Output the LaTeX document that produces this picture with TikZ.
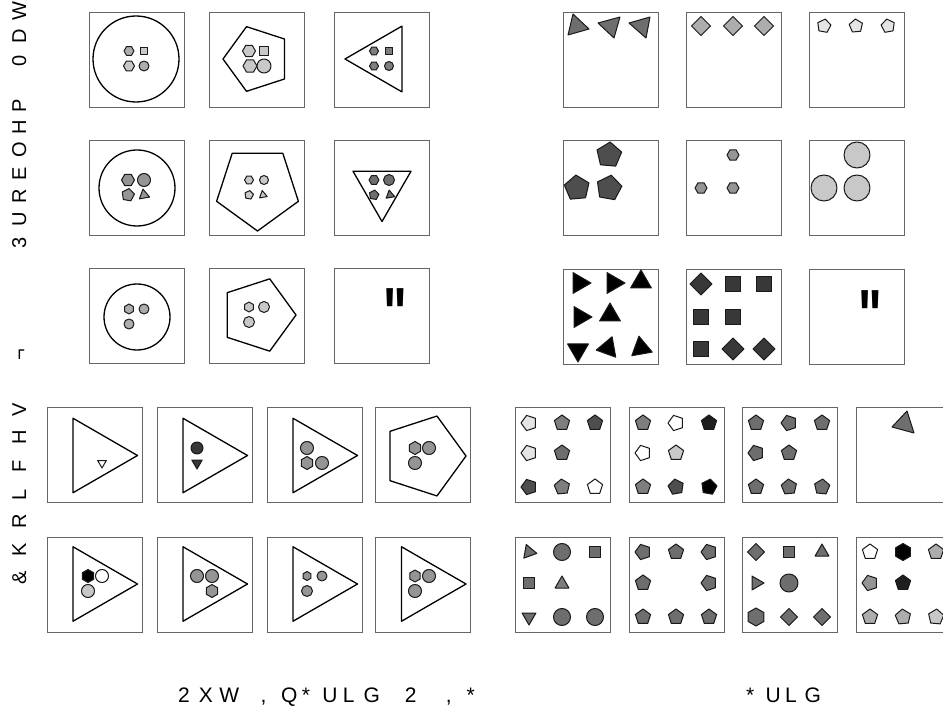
\documentclass[tikz,border=0pt]{standalone}
\usepackage{fontspec}
\setmainfont{Liberation Sans}[Ligatures=TeXOff]

\makeatletter
\newcommand{\spreadtext}[2]{\@tfor\spreadch:=#2\do{\makebox[#1][l]{\spreadch}}}
\makeatother

\begin{document}
\begin{tikzpicture}[x=1pt, y=-1pt,
    panel/.style={draw=black!60, line width=0.9pt},
    frame/.style={draw=black, line width=1.3pt, line join=round},
    item/.style={draw=black!90, line width=1pt, line join=round},
    caption/.style={inner sep=0pt, font=\fontsize{21}{24}\selectfont},
    blank/.style={inner sep=0pt, anchor=north, font=\bfseries\fontsize{50}{54}\selectfont}]
    \def\cellSize{95}
    \definecolor{greyPale}{HTML}{E4E4E4}
    \definecolor{greyLight}{HTML}{C8C8C8}
    \definecolor{greySoft}{HTML}{ADADAD}
    \definecolor{greyMid}{HTML}{959595}
    \definecolor{greyDim}{HTML}{7E7E7E}
    \definecolor{greyDark}{HTML}{6E6E6E}
    \definecolor{greyDeep}{HTML}{4E4E4E}
    \definecolor{greyNight}{HTML}{383838}
    \definecolor{greyInk}{HTML}{1E1E1E}

    % Page
    \useasboundingbox (0,0) rectangle (943,711);
    \clip (0,0) rectangle (943,711);

    % Shape macros: sides, x, y, radius, start angle, fill
    \def\polyShape#1#2#3#4#5#6{\filldraw[item, fill=#6, shift={(#2,#3)}] (#5:#4) \foreach \k in {1,...,#1} {-- ({#5+\k*360/#1}:#4)} -- cycle;}
    \def\frameShape#1#2#3#4#5{\draw[frame, shift={(#2,#3)}] (#5:#4) \foreach \k in {1,...,#1} {-- ({#5+\k*360/#1}:#4)} -- cycle;}
    \def\discShape#1#2#3#4{\filldraw[item, fill=#4] (#1,#2) circle (#3);}

    % Panels
    \foreach \px in {89,209,334} \foreach \py in {12,140,268} {\draw[panel] (\px,\py) rectangle ++(\cellSize,\cellSize);}
    \foreach \px in {563,686,809} \foreach \py in {12,140,269} {\draw[panel] (\px,\py) rectangle ++(\cellSize,\cellSize);}
    \foreach \px in {47,157,267,375} \foreach \py in {407,537} {\draw[panel] (\px,\py) rectangle ++(\cellSize,\cellSize);}
    \foreach \px in {515,629,742,856} \foreach \py in {407,537} {\draw[panel] (\px,\py) rectangle ++(\cellSize,\cellSize);}

    % Labels
    \node[caption, rotate=90, anchor=base west, font=\fontsize{20}{24}\selectfont] (matrixLabel) at (26,249) {\spreadtext{22.8pt}{3UREOHP{~}0DW}};
    \node[caption, rotate=90, anchor=base west, font=\fontsize{20}{24}\selectfont] (choiceLabel) at (26,585) {\spreadtext{28pt}{\&KRLFHV{~}¬}};
    \node[caption, anchor=base west] (oigLabel) at (178,702) {\spreadtext{20.6pt}{2XW{~},Q*ULG{~}2{~},*}};
    \node[caption, anchor=base west] (gridLabel) at (746,702) {\spreadtext{19.5pt}{*ULG}};
    \node[blank] (blankLeft) at (395,288) {\scalebox{1}[1.45]{"}};
    \node[blank] (blankRight) at (870,290) {\scalebox{1}[1.45]{"}};

    % Problem matrix 1, row 1
    \draw[frame] (136,59) circle (43);
    \polyShape{6}{129}{51}{5}{0}{greySoft}
    \polyShape{4}{144}{51}{5}{45}{greyLight}
    \polyShape{6}{129}{66}{5.5}{0}{greyLight}
    \discShape{144}{66}{5}{greySoft}
    \frameShape{5}{257}{59}{34}{180}
    \polyShape{6}{249}{51}{6.5}{0}{greyLight}
    \polyShape{4}{264}{51}{6.5}{45}{greyLight}
    \polyShape{6}{250}{66}{7}{0}{greyLight}
    \discShape{264}{66}{7}{greyLight}
    \frameShape{3}{383}{59}{38}{180}
    \polyShape{6}{374}{51}{4.5}{0}{greyDim}
    \polyShape{4}{389}{51}{5}{45}{greyDim}
    \polyShape{6}{374}{66}{4.5}{0}{greyDim}
    \discShape{389}{66}{4.5}{greyDim}

    % Problem matrix 1, row 2
    \draw[frame] (137,188) circle (38);
    \polyShape{6}{128}{180}{6.5}{0}{greyMid}
    \discShape{144}{180}{6.5}{greyMid}
    \polyShape{5}{128}{195}{6.5}{-80}{greyMid}
    \polyShape{3}{144}{195}{6}{20}{greyMid}
    \frameShape{5}{257.5}{188}{43}{90}
    \polyShape{6}{249}{180}{4.5}{0}{greyLight}
    \discShape{264}{180}{4.5}{greyLight}
    \polyShape{5}{249}{195}{4.5}{-80}{greyLight}
    \polyShape{3}{263}{195}{4.5}{20}{greyLight}
    \frameShape{3}{382}{188}{33.5}{90}
    \polyShape{6}{374}{180}{5}{0}{greyDark}
    \discShape{389}{180}{5.5}{greyDark}
    \polyShape{5}{374}{195}{5}{-80}{greyDark}
    \polyShape{3}{390}{195}{5}{20}{greyDark}

    % Problem matrix 1, row 3
    \draw[frame] (137,317) circle (33);
    \polyShape{6}{129}{309}{5}{90}{greySoft}
    \discShape{144}{309}{5}{greySoft}
    \discShape{129}{324}{5}{greySoft}
    \frameShape{5}{258}{315}{38}{0}
    \polyShape{6}{249}{307}{5}{90}{greyLight}
    \discShape{264}{307}{5.5}{greyLight}
    \discShape{249}{322}{5.5}{greyLight}

    % Problem matrix 2, row 1
    \filldraw[item, fill=greyDark] (573,14) -- (589,29) -- (568,35) -- cycle;
    \filldraw[item, fill=greyDark] (598,23) -- (620,17) -- (614,38) -- cycle;
    \filldraw[item, fill=greyDark] (629,23) -- (650,17) -- (646,38) -- cycle;
    \foreach \qx in {701,733,764} {\polyShape{4}{\qx}{26}{9.5}{0}{greySoft}}
    \foreach \qx/\qa in {824/-80,856/-95,888/-100} {\polyShape{5}{\qx}{26}{7}{\qa}{greyPale}}

    % Problem matrix 2, row 2
    \polyShape{5}{609}{155}{13}{-85}{greyDeep}
    \polyShape{5}{577}{188}{13}{-95}{greyDeep}
    \polyShape{5}{609}{188}{13}{-80}{greyDeep}
    \foreach \qx/\qy in {733/155,701/188,733/188} {\polyShape{6}{\qx}{\qy}{6}{0}{greyMid}}
    \foreach \qx/\qy in {857/155,824/188,857/188} {\discShape{\qx}{\qy}{13}{greyLight}}

    % Problem matrix 2, row 3
    \foreach \qx/\qy/\qa in {579/283/0, 613/283/0, 641/282/-90, 580/317/0, 610/315/-90, 578/350/90, 608/348/170, 641/348/-100}
        {\polyShape{3}{\qx}{\qy}{12}{\qa}{black}}
    \foreach \qx/\qy/\qa in {701/284/0, 733/284/45, 764/284/45, 701/317/45, 733/317/45, 701/349/45, 733/349/0, 764/349/0}
        {\polyShape{4}{\qx}{\qy}{11}{\qa}{greyNight}}

    % Choices, row 1
    \frameShape{3}{94.5}{455.5}{43}{0}
    \polyShape{3}{102}{463}{5}{90}{white}
    \frameShape{3}{204.5}{455.5}{43}{0}
    \discShape{197}{448}{6}{greyNight}
    \polyShape{3}{197}{463}{6}{90}{greyNight}
    \frameShape{3}{314.5}{455.5}{43}{0}
    \discShape{307}{448}{6.5}{greyMid}
    \polyShape{6}{307}{463}{6.5}{90}{greyMid}
    \discShape{322}{463}{6.5}{greyMid}
    \frameShape{5}{424}{456}{42}{0}
    \polyShape{6}{415}{448}{6.5}{90}{greyMid}
    \discShape{429}{448}{6.5}{greyMid}
    \discShape{415}{463}{6.5}{greyMid}
    \foreach \qx/\qy/\qc/\qa in {529/423/greyPale/180, 562/423/greyDim/-90, 595/423/greyDeep/-90, 529/453/greyPale/180, 562/453/greyDark/-90, 529/487/greyDeep/180, 562/487/greyDim/-95, 595/487/white/-90}
        {\polyShape{5}{\qx}{\qy}{8}{\qa}{\qc}}
    \foreach \qx/\qy/\qc/\qa in {643/423/greyDim/-90, 676/423/white/180, 709/423/greyInk/-90, 643/453/white/180, 676/453/greyLight/-90, 643/487/greyDim/-90, 676/487/greyDeep/-100, 709/487/black/-80}
        {\polyShape{5}{\qx}{\qy}{8}{\qa}{\qc}}
    \foreach \qx/\qy/\qa in {756/423/-90, 789/423/180, 822/423/-90, 756/453/180, 789/453/-90, 756/487/-90, 789/487/-95, 822/487/-85}
        {\polyShape{5}{\qx}{\qy}{8}{\qa}{greyDark}}
    \filldraw[item, fill=greyDark] (892,427) -- (907,411) -- (914,433) -- cycle;

    % Choices, row 2
    \frameShape{3}{94.5}{584}{43}{0}
    \polyShape{6}{88}{576}{6.5}{90}{black}
    \discShape{102}{576}{6.5}{white}
    \discShape{88}{591}{6.5}{greyLight}
    \frameShape{3}{204.5}{584}{43}{0}
    \discShape{197}{576}{6.5}{greyMid}
    \discShape{212}{576}{6.5}{greyMid}
    \polyShape{6}{212}{591}{6.5}{90}{greyMid}
    \frameShape{3}{314.5}{584}{43}{0}
    \polyShape{6}{307}{576}{4.5}{90}{greyMid}
    \discShape{322}{576}{5}{greyMid}
    \discShape{307}{591}{5.5}{greyMid}
    \frameShape{3}{423}{584}{43}{0}
    \polyShape{6}{415}{576}{6}{90}{greyMid}
    \discShape{429}{576}{6.5}{greyMid}
    \discShape{415}{591}{6.5}{greyMid}
    \polyShape{3}{529}{552}{8}{10}{greyDark}
    \discShape{562}{552}{8.5}{greyDark}
    \polyShape{4}{595}{552}{8}{45}{greyDark}
    \polyShape{4}{529}{583}{8}{45}{greyDark}
    \polyShape{3}{562}{584}{8}{-90}{greyDim}
    \polyShape{3}{529}{617}{8}{90}{greyDark}
    \discShape{562}{617}{8.5}{greyDark}
    \discShape{595}{617}{8.5}{greyDark}
    \foreach \qx/\qy/\qa in {643/552/180, 676/552/-90, 709/552/180, 643/583/-90, 709/583/180, 643/617/-90, 676/617/-90, 709/617/-90}
        {\polyShape{5}{\qx}{\qy}{8}{\qa}{greyDark}}
    \polyShape{4}{756}{552}{8.5}{0}{greyDark}
    \polyShape{4}{789}{552}{8}{45}{greyDark}
    \polyShape{3}{822}{552}{8}{-90}{greyDark}
    \polyShape{3}{756}{583}{8}{0}{greyDark}
    \discShape{789}{583}{9}{greyDark}
    \polyShape{6}{756}{617}{9}{90}{greyDark}
    \polyShape{4}{789}{617}{8.5}{0}{greyDark}
    \polyShape{4}{822}{617}{8.5}{0}{greyDark}
    \polyShape{5}{870}{552}{8}{-90}{white}
    \polyShape{6}{903}{552}{8.5}{90}{black}
    \polyShape{5}{936}{552}{8}{-90}{greySoft}
    \polyShape{5}{870}{583}{8}{180}{greyMid}
    \polyShape{5}{903}{583}{8}{-90}{greyInk}
    \polyShape{5}{870}{617}{8}{-90}{greySoft}
    \polyShape{5}{903}{617}{8}{-95}{greySoft}
    \polyShape{5}{936}{617}{8}{-85}{greyLight}
\end{tikzpicture}
\end{document}
